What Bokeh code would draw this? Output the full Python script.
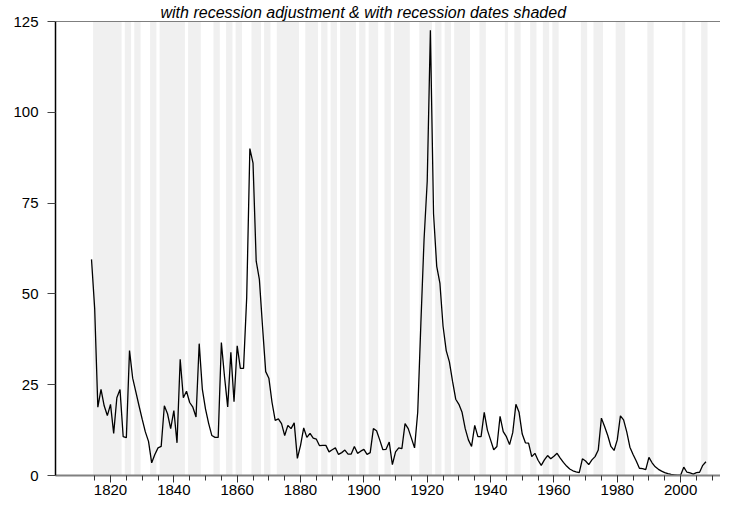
from bokeh.plotting import figure
from bokeh.models import FixedTicker, Span, Range1d, ColumnDataSource, Title
from bokeh.embed import file_html
from bokeh.resources import INLINE

# ---------------- data ----------------
years = list(range(1814, 2009))
values = [
    59.5, 46.0, 18.8, 23.7, 19.2, 16.5, 19.6, 11.6, 21.4, 23.7,   # 1814-1823
    10.7, 10.4, 34.4, 26.8, 23.0, 19.2, 15.5, 12.0, 9.4, 3.5,     # 1824-1833
    5.8, 7.6, 8.0, 19.2, 17.0, 12.9, 17.9, 9.0, 32.0, 21.4,       # 1834-1843
    23.2, 20.1, 18.8, 16.1, 36.3, 23.7, 18.3, 14.3, 11.0, 10.5,   # 1844-1853
    10.5, 36.6, 27.2, 18.9, 33.9, 20.3, 35.7, 29.5, 29.5, 49.0,   # 1854-1863
    90.0, 86.0, 59.0, 54.0, 41.0, 28.6, 26.8, 20.1, 15.2, 15.6,   # 1864-1873
    14.3, 11.0, 13.8, 12.9, 14.5, 4.7, 8.3, 13.1, 10.5, 11.6,     # 1874-1883
    10.3, 10.0, 8.2, 8.3, 8.3, 6.5, 7.1, 7.6, 5.8, 6.3,           # 1884-1893
    7.0, 5.9, 5.9, 8.0, 6.1, 6.7, 7.2, 5.8, 6.3, 12.9,            # 1894-1903
    12.3, 9.8, 7.1, 7.2, 9.2, 3.0, 6.5, 7.6, 7.4, 14.3,           # 1904-1913
    12.9, 10.3, 7.6, 17.4, 42.0, 65.0, 81.0, 122.6, 72.0, 57.6,   # 1914-1923
    53.0, 41.1, 34.4, 31.3, 25.9, 21.0, 19.6, 17.4, 12.9, 9.8,    # 1924-1933
    8.0, 13.8, 10.7, 10.7, 17.4, 12.5, 9.8, 7.1, 8.0, 16.3,       # 1934-1943
    12.1, 10.7, 8.5, 11.8, 19.6, 17.4, 11.4, 9.0, 8.9, 5.2,       # 1944-1953
    6.1, 4.2, 2.8, 4.3, 5.5, 4.6, 5.3, 6.1, 4.8, 3.6,             # 1954-1963
    2.6, 1.8, 1.3, 1.0, 0.8, 4.6, 4.0, 3.0, 4.3, 5.2,             # 1964-1973
    7.0, 15.8, 13.5, 11.0, 8.0, 6.9, 9.8, 16.4, 15.3, 12.0,       # 1974-1983
    7.8, 5.8, 4.0, 2.0, 1.9, 1.6, 5.0, 3.5, 2.4, 1.7,             # 1984-1993
    1.2, 0.8, 0.5, 0.3, 0.2, 0.1, 0.1, 2.3, 0.9, 0.7,             # 1994-2003
    0.4, 0.8, 0.9, 2.8, 3.8,                                      # 2004-2008
]
assert len(years) == len(values)

# recession years (first and last year of each shaded period)
rec_start = [1815, 1825, 1828, 1833, 1836, 1845, 1853, 1857, 1860, 1865, 1869,
             1873, 1882, 1887, 1890, 1893, 1899, 1902, 1907, 1910, 1918, 1923,
             1926, 1929, 1937, 1945, 1948, 1953, 1957, 1960, 1969, 1973, 1980,
             1990, 2001, 2007]
rec_end = [1823, 1826, 1829, 1834, 1843, 1848, 1854, 1858, 1861, 1867, 1870,
           1879, 1885, 1888, 1891, 1897, 1900, 1904, 1908, 1914, 1921, 1924,
           1927, 1933, 1938, 1945, 1949, 1954, 1958, 1961, 1970, 1975, 1982,
           1991, 2001, 2008]

y_ticks = [0, 25, 50, 75, 100, 125]
x_ticks = [1820, 1840, 1860, 1880, 1900, 1920, 1940, 1960, 1980, 2000]
x_minor_ticks = list(range(1815, 2015, 5))
title_text = "with recession adjustment & with recession dates shaded"

# ---------------- figure ----------------
FONT = "Liberation Sans"
p = figure(width=720, height=499, output_backend="svg", toolbar_location=None,
           x_range=Range1d(1802.63, 2012.6), y_range=Range1d(0, 125),
           min_border_left=55, min_border_right=0, min_border_top=0,
           min_border_bottom=24)
p.outline_line_color = None
p.xgrid.visible = False
p.ygrid.visible = False
p.background_fill_color = "white"
p.border_fill_color = "white"

# subtitle above the plot area
p.title = Title(text=title_text, align="left", offset=105, standoff=2,
                text_font=FONT, text_font_style="italic",
                text_font_size="16px", text_color="black")

# recession shading
rec_src = ColumnDataSource(dict(
    left=[s - 0.5 for s in rec_start],
    right=[e + 0.5 for e in rec_end],
))
p.quad(left="left", right="right", bottom=0, top=125, source=rec_src,
       fill_color="#f0f0f0", line_color=None)

# series
p.line(years, values, line_color="black", line_width=1.3)

# top border line
p.add_layout(Span(location=125, dimension="width", line_color="black",
                  line_width=1))

# x axis
xa = p.xaxis[0]
xa.ticker = FixedTicker(ticks=x_ticks, minor_ticks=x_minor_ticks)
xa.axis_line_color = "#808080"
xa.axis_line_width = 2
xa.major_tick_in = 0
xa.major_tick_out = 7
xa.minor_tick_in = 0
xa.minor_tick_out = 5
xa.major_tick_line_color = "#333333"
xa.minor_tick_line_color = "#333333"
xa.major_label_standoff = 2
xa.major_label_text_font = FONT
xa.major_label_text_font_size = "15px"
xa.major_label_text_color = "black"

# y axis
ya = p.yaxis[0]
ya.ticker = FixedTicker(ticks=y_ticks)
ya.axis_line_color = "black"
ya.axis_line_width = 1.5
ya.major_tick_in = 0
ya.major_tick_out = 8
ya.minor_tick_line_color = None
ya.major_tick_line_color = "#444444"
ya.major_label_standoff = 9
ya.major_label_text_font = FONT
ya.major_label_text_font_size = "15px"
ya.major_label_text_color = "black"

open("out.html", "w").write(file_html(p, INLINE))
